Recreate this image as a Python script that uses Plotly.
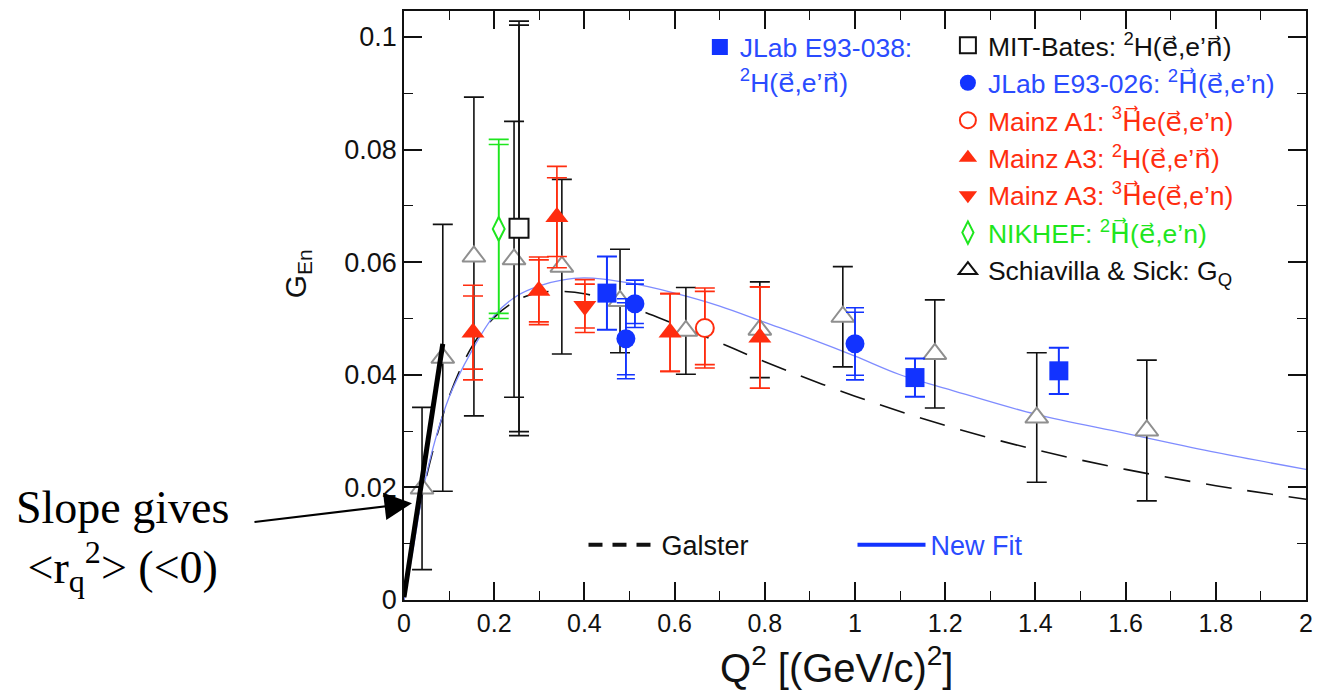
import plotly.graph_objects as go

# ---------------- data ----------------
# Schiavilla & Sick: G_Q
ss_q2 = [0.04, 0.086, 0.155, 0.244, 0.35, 0.479, 0.625, 0.789, 0.973, 1.177, 1.403, 1.647]
ss_gen = [0.0198, 0.043, 0.061, 0.0605, 0.0592, 0.0531, 0.0478, 0.048, 0.0503, 0.0437, 0.0324, 0.0301]
ss_err = [0.0144, 0.0237, 0.0283, 0.0245, 0.0155, 0.0092, 0.0077, 0.0085, 0.0089, 0.0096, 0.0115, 0.0125]

# MIT-Bates
bates_q2 = [0.255]
bates_gen = [0.066]
bates_err_tot = [0.0368]
bates_err_stat = [0.0361]

# JLab E93-038
e038_q2 = [0.45, 1.133, 1.452]
e038_gen = [0.0545, 0.0395, 0.0407]
e038_err = [0.0065, 0.0034, 0.0041]

# JLab E93-026
e026_q2 = [0.492, 0.512, 1.0]
e026_gen = [0.0464, 0.0526, 0.0455]
e026_err_tot = [0.0071, 0.0042, 0.0064]
e026_err_stat = [0.0064, 0.0035, 0.0056]

# Mainz A1 3He
a1_q2 = [0.667]
a1_gen = [0.0483]
a1_err_tot = [0.0071]
a1_err_stat = [0.0065]

# Mainz A3 2H
a3d_q2 = [0.153, 0.299, 0.339, 0.59, 0.789]
a3d_gen = [0.0475, 0.0549, 0.068, 0.0475, 0.0466]
a3d_err_tot = [0.0084, 0.006, 0.009, 0.0069, 0.009]
a3d_err_stat = [0.0065, 0.0055, 0.007, 0.0069, 0.009]

# Mainz A3 3He
a3he_q2 = [0.401]
a3he_gen = [0.0522]
a3he_err_tot = [0.0047]
a3he_err_stat = [0.0039]

# NIKHEF
nik_q2 = [0.21]
nik_gen = [0.0659]
nik_err_tot = [0.0159]
nik_err_stat = [0.015]

# Galster curve
galster_q2 = [0, 0.02, 0.05, 0.1, 0.15, 0.2, 0.25, 0.3, 0.35, 0.4, 0.5, 0.6, 0.7, 0.8, 1.0, 1.2, 1.4, 1.6, 1.8, 2.0]
galster_gen = [0, 0.0100, 0.0220, 0.0361, 0.0449, 0.0502, 0.0532, 0.0546, 0.0548, 0.0544, 0.0521, 0.0490,
               0.0457, 0.0423, 0.0362, 0.0310, 0.0267, 0.0232, 0.0203, 0.0179]

# New fit curve
fit_q2 = [0, 0.02, 0.05, 0.1, 0.15, 0.2, 0.25, 0.3, 0.35, 0.4, 0.5, 0.6, 0.7, 0.8, 0.9, 1.0, 1.1, 1.2,
          1.4, 1.6, 1.8, 2.0]
fit_gen = [0, 0.009, 0.0224, 0.036, 0.0442, 0.0505, 0.054, 0.0558, 0.0568, 0.0572, 0.0563, 0.0545,
           0.0522, 0.0493, 0.0464, 0.0433, 0.0400, 0.0376, 0.0330, 0.0296, 0.0262, 0.0232]

# slope annotation line (Q2, G_En) and arrow tip
slope_q2 = [0.0, 0.086]
slope_gen = [0.0005, 0.0455]
arrow_tip = (0.0177, 0.0172)

BLUE = "#1233ff"
BLUE_TXT = "#2a4bff"
FIT_BLUE = "#7f8cff"
RED = "#ff2d0f"
GREEN = "#1ee61e"
GRAY = "#8f8f8f"
BLACK = "#111111"

SANS = "Liberation Sans, Arial, sans-serif"
SERIF = "Liberation Serif, Times New Roman, serif"
LEG_SIZE = 26.5


def vec(ch):
    # letter with a combining right arrow above (DejaVu Sans carries the arrow glyph)
    return "<span style=\"font-family:DejaVu Sans\">%s\u20d7</span>" % ch


fig = go.Figure()

# curves
fig.add_trace(go.Scatter(x=galster_q2, y=galster_gen, mode="lines",
                         line=dict(color=BLACK, width=1.6, dash="26px,16px", shape="spline"),
                         showlegend=False, hoverinfo="skip"))
fig.add_trace(go.Scatter(x=fit_q2, y=fit_gen, mode="lines", line=dict(color=FIT_BLUE, width=1.3, shape="spline"),
                         showlegend=False, hoverinfo="skip"))


def err(arr, color, w=10, th=1.6):
    return dict(type="data", array=arr, visible=True, color=color, thickness=th, width=w)


def inner(q, g, e, color, w=10):
    fig.add_trace(go.Scatter(x=q, y=g, mode="markers", marker=dict(size=2, opacity=0),
                             error_y=err(e, color, w), showlegend=False, hoverinfo="skip"))


# Schiavilla & Sick (legend shown by a black-outlined proxy)
fig.add_trace(go.Scatter(x=ss_q2, y=ss_gen, mode="markers",
                         marker=dict(symbol="triangle-up", size=20, color="white", line=dict(color=GRAY, width=2)),
                         error_y=err(ss_err, BLACK), showlegend=False, name="Schiavilla & Sick"))
fig.add_trace(go.Scatter(x=[None], y=[None], mode="markers",
                         marker=dict(symbol="triangle-up", size=16, color="white", line=dict(color=BLACK, width=2)),
                         legend="legend2", legendrank=7, name="Schiavilla & Sick: G<sub>Q</sub>"))
# MIT-Bates
inner(bates_q2, bates_gen, bates_err_stat, BLACK)
fig.add_trace(go.Scatter(x=bates_q2, y=bates_gen, mode="markers",
                         marker=dict(symbol="square", size=19, color="white", line=dict(color=BLACK, width=2)),
                         error_y=err(bates_err_tot, BLACK), legend="legend2", legendrank=1,
                         name="MIT-Bates: <sup>2</sup>H(%s,e\u2019%s)" % (vec("e"), vec("n"))))
# NIKHEF
inner(nik_q2, nik_gen, nik_err_stat, GREEN)
fig.add_trace(go.Scatter(x=nik_q2, y=nik_gen, mode="markers",
                         marker=dict(symbol="diamond-tall", size=17, color="white", line=dict(color=GREEN, width=2)),
                         error_y=err(nik_err_tot, GREEN), legend="legend2", legendrank=6,
                         name="<span style='color:%s'>NIKHEF: <sup>2</sup>%s(%s,e\u2019n)</span>"
                              % (GREEN, vec("H"), vec("e"))))
# Mainz A3 3He
inner(a3he_q2, a3he_gen, a3he_err_stat, RED)
fig.add_trace(go.Scatter(x=a3he_q2, y=a3he_gen, mode="markers",
                         marker=dict(symbol="triangle-down", size=20, color=RED),
                         error_y=err(a3he_err_tot, RED), legend="legend2", legendrank=5,
                         name="<span style='color:%s'>Mainz A3: <sup>3</sup>%se(%s,e\u2019n)</span>"
                              % (RED, vec("H"), vec("e"))))
# Mainz A3 2H
inner(a3d_q2, a3d_gen, a3d_err_stat, RED)
fig.add_trace(go.Scatter(x=a3d_q2, y=a3d_gen, mode="markers",
                         marker=dict(symbol="triangle-up", size=20, color=RED),
                         error_y=err(a3d_err_tot, RED), legend="legend2", legendrank=4,
                         name="<span style='color:%s'>Mainz A3: <sup>2</sup>H(%s,e\u2019%s)</span>"
                              % (RED, vec("e"), vec("n"))))
# Mainz A1
inner(a1_q2, a1_gen, a1_err_stat, RED)
fig.add_trace(go.Scatter(x=a1_q2, y=a1_gen, mode="markers",
                         marker=dict(symbol="circle", size=18, color="white", line=dict(color=RED, width=2)),
                         error_y=err(a1_err_tot, RED), legend="legend2", legendrank=3,
                         name="<span style='color:%s'>Mainz A1: <sup>3</sup>%se(%s,e\u2019n)</span>"
                              % (RED, vec("H"), vec("e"))))
# JLab E93-026
inner(e026_q2, e026_gen, e026_err_stat, BLUE, 9)
fig.add_trace(go.Scatter(x=e026_q2, y=e026_gen, mode="markers",
                         marker=dict(symbol="circle", size=19, color=BLUE),
                         error_y=err(e026_err_tot, BLUE, 9), legend="legend2", legendrank=2,
                         name="<span style='color:%s'>JLab E93-026: <sup>2</sup>%s(%s,e\u2019n)</span>"
                              % (BLUE_TXT, vec("H"), vec("e"))))
# JLab E93-038
fig.add_trace(go.Scatter(x=e038_q2, y=e038_gen, mode="markers",
                         marker=dict(symbol="square", size=19, color=BLUE),
                         error_y=err(e038_err, BLUE, 10, 2), legend="legend",
                         name="<span style='color:%s'>JLab E93-038:<br><sup>2</sup>H(%s,e\u2019%s)</span>"
                              % (BLUE_TXT, vec("e"), vec("n"))))

# legend proxies for the curves
fig.add_trace(go.Scatter(x=[None], y=[None], mode="lines", line=dict(color=BLACK, width=4, dash="14px,10px"),
                         legend="legend3", name="Galster"))
fig.add_trace(go.Scatter(x=[None], y=[None], mode="lines", line=dict(color=BLUE, width=4),
                         legend="legend3", name="<span style='color:%s'>New Fit</span>" % BLUE_TXT))

# slope line
fig.add_shape(type="line", xref="x", yref="y", x0=slope_q2[0], y0=slope_gen[0], x1=slope_q2[1], y1=slope_gen[1],
              line=dict(color="black", width=5))

fig.add_annotation(x=arrow_tip[0], y=arrow_tip[1], xref="x", yref="y", text="", showarrow=True,
                   ax=-159, ay=19, arrowhead=2, arrowsize=2.5, arrowwidth=2.2, arrowcolor="black", standoff=0)
fig.add_annotation(x=-0.3126, y=0.1015, xref="paper", yref="paper",
                   text="Slope gives<br>&lt;r<sub>q</sub><sup>2</sup>&gt; (&lt;0)", showarrow=False,
                   font=dict(family=SERIF, size=46, color="black"), xanchor="center", yanchor="middle")

# axis titles
fig.add_annotation(x=-0.118, y=0.554, xref="paper", yref="paper", text="G<sub>En</sub>", textangle=-90,
                   showarrow=False, font=dict(family=SANS, size=30, color=BLACK), xanchor="center", yanchor="middle")
fig.add_annotation(x=0.48, y=-0.11, xref="paper", yref="paper", text="Q<sup>2</sup> [(GeV/c)<sup>2</sup>]",
                   showarrow=False, font=dict(family=SANS, size=40, color=BLACK), xanchor="center", yanchor="middle")

axis_common = dict(showline=True, linecolor=BLACK, linewidth=1.5, mirror="ticks", ticks="inside",
                   tickwidth=1.5, tickcolor=BLACK, showgrid=False, zeroline=False)

fig.update_xaxes(range=[0, 2], dtick=0.2, tick0=0, ticklen=18,
                 tickfont=dict(family=SANS, size=25, color=BLACK),
                 minor=dict(ticks="inside", dtick=0.1, ticklen=9, tickwidth=1.2, tickcolor=BLACK, showgrid=False),
                 **axis_common)
fig.update_yaxes(range=[0, 0.1046], dtick=0.02, tick0=0, ticklen=18,
                 tickfont=dict(family=SANS, size=27, color=BLACK),
                 minor=dict(ticks="inside", dtick=0.01, ticklen=9, tickwidth=1.2, tickcolor=BLACK, showgrid=False),
                 **axis_common)

# the page body adds an 8 px offset, so the figure is 8 px smaller each way
fig.update_layout(
    width=1315, height=686,
    margin=dict(l=396, r=17, t=1, b=94),
    paper_bgcolor="white", plot_bgcolor="white",
    legend=dict(x=0.328, y=0.979, xanchor="left", yanchor="top", bgcolor="rgba(0,0,0,0)", valign="top",
                font=dict(family=SANS, size=LEG_SIZE, color=BLACK)),
    legend2=dict(x=0.603, y=0.982, xanchor="left", yanchor="top", bgcolor="rgba(0,0,0,0)",
                 font=dict(family=SANS, size=LEG_SIZE, color=BLACK)),
    legend3=dict(x=0.199, y=0.093, xanchor="left", yanchor="middle", orientation="h", bgcolor="rgba(0,0,0,0)",
                 itemwidth=68, entrywidth=186, font=dict(family=SANS, size=27, color=BLACK)),
)

fig.write_html("out.html")
